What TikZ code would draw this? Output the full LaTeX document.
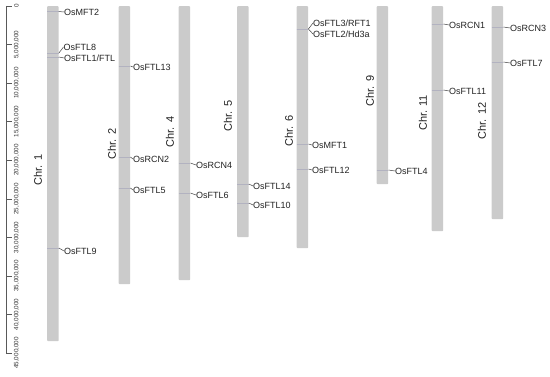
\documentclass[tikz,border=0pt]{standalone}
\usepackage{fontspec}
\setmainfont{Liberation Sans}
\definecolor{barfill}{HTML}{CBCBCB}
\definecolor{txt}{HTML}{222222}
\definecolor{markc}{HTML}{B2B2C0}
\tikzset{
  bar/.style={fill=barfill, draw=none, rounded corners=0.8pt, minimum width=11.5pt, inner sep=0pt, anchor=north west},
  genemark/.style={draw=markc, line width=0.4pt},
  conn/.style={draw=black!75, line width=0.5pt},
  genelabel/.style={anchor=west, inner sep=0pt, font=\fontsize{9}{10}\selectfont, text=txt},
  chrlabel/.style={rotate=90, inner sep=0pt, font=\fontsize{11}{12}\selectfont, text=txt},
  axlabel/.style={rotate=90, inner sep=0pt, font=\fontsize{6.3}{7}\selectfont, text=black!80},
  axline/.style={draw=black!65, line width=0.5pt}
}
\newcommand\gene[6]{%
  \coordinate (#5a) at (#1.west |- 0,#2);
  \coordinate (#5b) at (#1.east |- 0,#2);
  \draw[genemark] (#5a) -- (#5b);
  \node[genelabel] (#5) at (#3,#4) {#6};
  \draw[conn] (#5b) -- (#5.west);
}
\begin{document}
\begin{tikzpicture}[x=1pt,y=-1pt]
\useasboundingbox (0,0) rectangle (550,377);
% axis
\coordinate (atop) at (6,6);
\coordinate (abot) at (6,353);
\draw[axline] (atop) -- (abot);
\foreach \v/\t in {0/0,5/{5,000,000},10/{10,000,000},15/{15,000,000},20/{20,000,000},25/{25,000,000},30/{30,000,000},35/{35,000,000},40/{40,000,000},45/{45,000,000}}{
  \coordinate (tk\v) at (6,6+7.711*\v);
  \coordinate (tke\v) at (12,6+7.711*\v);
  \draw[axline] (tk\v) -- (tke\v);
  \node[axlabel] (ax\v) at (16.5,6+7.711*\v) {\t};
}
% chromosomes
\node[bar, minimum height=335pt] (c1) at (47,6) {};
\node[bar, minimum height=278pt] (c2) at (118.5,6) {};
\node[bar, minimum height=274pt] (c4) at (178.5,6) {};
\node[bar, minimum height=231pt] (c5) at (237,6) {};
\node[bar, minimum height=242pt] (c6) at (296.5,6) {};
\node[bar, minimum height=178pt] (c9) at (376.5,6) {};
\node[bar, minimum height=225pt] (c11) at (431.5,6) {};
\node[bar, minimum height=213pt] (c12) at (491.5,6) {};
% chromosome labels
\node[chrlabel] (l1) at (38,170) {Chr. 1};
\node[chrlabel] (l2) at (112,144) {Chr. 2};
\node[chrlabel] (l4) at (170,132) {Chr. 4};
\node[chrlabel] (l5) at (228,116) {Chr. 5};
\node[chrlabel] (l6) at (289,131) {Chr. 6};
\node[chrlabel] (l9) at (370,91) {Chr. 9};
\node[chrlabel] (l11) at (423,113) {Chr. 11};
\node[chrlabel] (l12) at (482,121) {Chr. 12};
% genes
\gene{c1}{11.5}{64}{12}{gA}{OsMFT2}
\gene{c1}{53}{63.5}{47}{gB}{OsFTL8}
\gene{c1}{57}{64}{58}{gC}{OsFTL1/FTL}
\gene{c1}{248}{64}{251}{gD}{OsFTL9}
\gene{c2}{66}{133}{67}{gE}{OsFTL13}
\gene{c2}{157}{133}{159}{gF}{OsRCN2}
\gene{c2}{188}{133}{190}{gG}{OsFTL5}
\gene{c4}{163}{196}{165}{gH}{OsRCN4}
\gene{c4}{193}{196}{195}{gI}{OsFTL6}
\gene{c5}{184}{253}{186}{gJ}{OsFTL14}
\gene{c5}{203}{253}{205}{gK}{OsFTL10}
\gene{c6}{29}{313}{23}{gL}{OsFTL3/RFT1}
\gene{c6}{29}{313}{34}{gM}{OsFTL2/Hd3a}
\gene{c6}{144}{312}{145}{gN}{OsMFT1}
\gene{c6}{169}{312}{170}{gO}{OsFTL12}
\gene{c9}{170}{395}{171}{gP}{OsFTL4}
\gene{c11}{24}{449}{25}{gQ}{OsRCN1}
\gene{c11}{90}{449}{91}{gR}{OsFTL11}
\gene{c12}{27}{510}{28}{gS}{OsRCN3}
\gene{c12}{62}{510}{63}{gT}{OsFTL7}
\end{tikzpicture}
\end{document}
